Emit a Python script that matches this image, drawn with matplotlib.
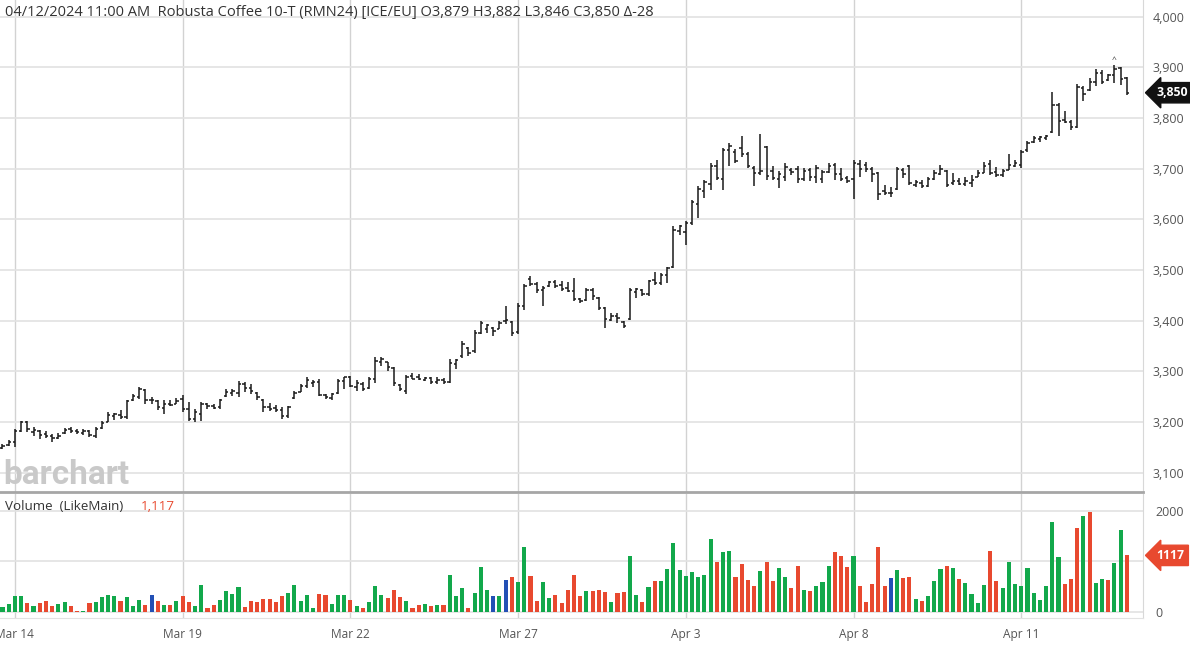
import matplotlib
matplotlib.use("Agg")
import matplotlib.pyplot as plt
import matplotlib.transforms as mtransforms
from matplotlib.lines import Line2D

plt.rcParams['font.family'] = ['Open Sans', 'DejaVu Sans']

# hourly bars, Mar 13 -> Apr 12 2024 (index = bar number)
opens = [3148, 3154, 3160, 3182, 3200, 3180, 3182, 3176, 3172, 3168,
         3178, 3186, 3182, 3178, 3182, 3172, 3188, 3200, 3212, 3214,
         3210, 3243, 3250, 3264, 3244, 3242, 3228, 3236, 3236, 3245,
         3226, 3206, 3215, 3235, 3232, 3230, 3252, 3258, 3258, 3276,
         3268, 3258, 3244, 3230, 3228, 3224, 3212, 3248, 3260, 3272,
         3278, 3280, 3254, 3248, 3258, 3282, 3288, 3270, 3276, 3268,
         3286, 3318, 3318, 3306, 3274, 3262, 3290, 3288, 3284, 3287,
         3280, 3284, 3280, 3314, 3330, 3346, 3340, 3376, 3384, 3386,
         3384, 3400, 3398, 3378, 3430, 3482, 3472, 3460, 3468, 3476,
         3470, 3464, 3458, 3442, 3440, 3460, 3444, 3426, 3402, 3410,
         3398, 3404, 3456, 3460, 3452, 3480, 3474, 3490, 3506, 3578,
         3576, 3592, 3630, 3656, 3670, 3706, 3680, 3736, 3734, 3740,
         3730, 3702, 3692, 3742, 3696, 3680, 3684, 3698, 3700, 3680,
         3698, 3684, 3680, 3694, 3708, 3690, 3682, 3680, 3710, 3708,
         3700, 3692, 3656, 3652, 3660, 3698, 3705, 3668, 3672, 3666,
         3680, 3690, 3696, 3672, 3676, 3670, 3672, 3684, 3692, 3710,
         3694, 3688, 3698, 3706, 3708, 3736, 3752, 3758, 3760, 3772,
         3826, 3796, 3792, 3782, 3860, 3856, 3872, 3888, 3876, 3884,
         3898, 3879]
highs = [3156, 3165, 3186, 3203, 3203, 3190, 3185, 3183, 3176, 3178,
         3188, 3190, 3186, 3186, 3184, 3190, 3203, 3220, 3218, 3223,
         3244, 3256, 3269, 3266, 3249, 3243, 3243, 3243, 3247, 3253,
         3239, 3226, 3239, 3237, 3236, 3246, 3265, 3266, 3282, 3280,
         3276, 3260, 3245, 3238, 3234, 3229, 3232, 3262, 3275, 3289,
         3283, 3285, 3256, 3258, 3285, 3289, 3291, 3283, 3280, 3289,
         3329, 3328, 3319, 3309, 3276, 3292, 3296, 3294, 3289, 3289,
         3288, 3287, 3324, 3325, 3361, 3348, 3381, 3400, 3394, 3387,
         3400, 3430, 3400, 3436, 3472, 3489, 3476, 3469, 3479, 3481,
         3479, 3477, 3484, 3445, 3464, 3464, 3446, 3428, 3415, 3416,
         3399, 3464, 3464, 3462, 3481, 3497, 3494, 3507, 3586, 3589,
         3596, 3639, 3665, 3678, 3711, 3718, 3741, 3751, 3738, 3764,
         3734, 3705, 3769, 3744, 3705, 3695, 3711, 3701, 3705, 3701,
         3701, 3708, 3698, 3711, 3711, 3701, 3685, 3718, 3717, 3714,
         3704, 3694, 3668, 3664, 3704, 3701, 3707, 3677, 3677, 3684,
         3697, 3707, 3697, 3691, 3681, 3684, 3687, 3697, 3714, 3717,
         3704, 3700, 3730, 3717, 3737, 3754, 3764, 3765, 3767, 3852,
         3830, 3813, 3797, 3868, 3863, 3879, 3896, 3894, 3886, 3905,
         3901, 3882]
lows = [3146, 3152, 3150, 3180, 3180, 3172, 3167, 3168, 3160, 3166,
        3176, 3178, 3176, 3174, 3170, 3168, 3186, 3200, 3205, 3207,
        3207, 3242, 3246, 3236, 3236, 3223, 3216, 3232, 3236, 3220,
        3203, 3200, 3203, 3226, 3225, 3226, 3250, 3252, 3249, 3259,
        3256, 3243, 3220, 3222, 3220, 3207, 3208, 3245, 3259, 3268,
        3269, 3252, 3246, 3244, 3256, 3265, 3269, 3262, 3262, 3265,
        3278, 3311, 3301, 3272, 3262, 3256, 3285, 3284, 3282, 3275,
        3276, 3276, 3278, 3305, 3327, 3331, 3337, 3373, 3376, 3370,
        3383, 3393, 3370, 3373, 3422, 3468, 3455, 3429, 3467, 3465,
        3458, 3456, 3438, 3435, 3438, 3440, 3422, 3386, 3399, 3395,
        3386, 3402, 3445, 3448, 3448, 3471, 3471, 3474, 3504, 3570,
        3550, 3589, 3603, 3642, 3659, 3678, 3659, 3705, 3711, 3724,
        3701, 3665, 3688, 3678, 3678, 3662, 3675, 3688, 3672, 3675,
        3675, 3672, 3672, 3691, 3678, 3675, 3672, 3641, 3684, 3694,
        3674, 3638, 3648, 3644, 3658, 3681, 3668, 3664, 3661, 3664,
        3677, 3687, 3664, 3668, 3668, 3666, 3664, 3684, 3691, 3687,
        3684, 3684, 3697, 3704, 3701, 3734, 3750, 3752, 3757, 3770,
        3764, 3790, 3777, 3780, 3833, 3853, 3863, 3868, 3874, 3870,
        3866, 3846]
closes = [3153, 3161, 3182, 3200, 3186, 3184, 3175, 3172, 3168, 3172,
          3185, 3182, 3180, 3182, 3174, 3186, 3198, 3214, 3216, 3210,
          3242, 3252, 3265, 3244, 3244, 3230, 3236, 3234, 3242, 3225,
          3206, 3220, 3236, 3232, 3228, 3244, 3260, 3262, 3276, 3268,
          3262, 3250, 3230, 3226, 3224, 3212, 3230, 3258, 3272, 3284,
          3280, 3254, 3250, 3256, 3282, 3288, 3272, 3278, 3266, 3286,
          3320, 3324, 3308, 3278, 3266, 3288, 3286, 3285, 3287, 3280,
          3284, 3280, 3316, 3322, 3354, 3336, 3376, 3396, 3392, 3380,
          3396, 3402, 3376, 3430, 3468, 3472, 3460, 3465, 3476, 3468,
          3462, 3458, 3442, 3438, 3460, 3448, 3426, 3404, 3410, 3406,
          3390, 3460, 3462, 3452, 3478, 3474, 3490, 3504, 3580, 3586,
          3592, 3634, 3660, 3674, 3706, 3682, 3736, 3745, 3716, 3730,
          3705, 3692, 3696, 3686, 3682, 3690, 3704, 3694, 3680, 3696,
          3684, 3702, 3694, 3706, 3690, 3680, 3676, 3712, 3700, 3700,
          3690, 3650, 3652, 3652, 3700, 3690, 3672, 3674, 3666, 3680,
          3692, 3700, 3668, 3676, 3670, 3676, 3678, 3692, 3706, 3692,
          3688, 3696, 3708, 3712, 3734, 3750, 3760, 3762, 3764, 3826,
          3795, 3792, 3782, 3862, 3848, 3872, 3888, 3872, 3884, 3896,
          3878, 3850]
volumes = [100, 153, 313, 307, 173, 120, 180, 213, 120, 147,
           187, 113, 27, 27, 167, 187, 293, 327, 307, 220,
           293, 113, 233, 133, 327, 213, 140, 127, 213, 313,
           187, 107, 533, 87, 133, 233, 413, 347, 500, 100,
           213, 187, 260, 260, 200, 307, 367, 540, 220, 333,
           87, 353, 333, 147, 333, 327, 233, 113, 73, 193,
           507, 333, 280, 433, 293, 207, 80, 127, 160, 113,
           133, 140, 727, 320, 480, 73, 373, 887, 427, 320,
           313, 627, 687, 600, 1273, 713, 220, 593, 267, 333,
           167, 427, 720, 313, 407, 407, 440, 387, 187, 367,
           393, 1113, 333, 200, 500, 613, 607, 840, 1353, 827,
           700, 787, 680, 720, 1433, 980, 1180, 1213, 687, 953,
           633, 513, 807, 993, 620, 867, 693, 480, 913, 427,
           413, 507, 587, 913, 1193, 1113, 880, 1107, 507, 193,
           553, 1273, 513, 667, 820, 673, 687, 247, 213, 320,
           620, 853, 907, 860, 660, 567, 360, 180, 527, 1200,
           607, 480, 993, 553, 520, 873, 373, 233, 507, 1767,
           1087, 547, 653, 1667, 1887, 1967, 573, 647, 640, 973,
           1613, 1117]
vol_dirs = "GGGGRGRRRGGRRGRGGGGRGGGRBRGRGRRGGRRGGGGRRRRRRRGGGGGRRGGGRGRGGGRRRGRRGRGRGGGRGGGBGBRGGRRGGRRR" \
           "RRGRRRGRRGGRGRGGGGGGGGGRGGRRRRGRRGGRRGRGGGRRRGRRRRRBGRRGRGGGRGRGGGGRRGGGGGGGGGGRRRGRGGRGGRR"
date_idx = [2, 29, 56, 83, 110, 137, 164]
date_labels = ['Mar 14', 'Mar 19', 'Mar 22', 'Mar 27', 'Apr 3', 'Apr 8', 'Apr 11']
price_ticks = [3100, 3200, 3300, 3400, 3500, 3600, 3700, 3800, 3900, 4000]
vol_ticks = [0, 1000, 2000]
vol_tick_labels = ['0', '', '2000']  # 1000 sits under the last-volume tag
last_price = 3850
last_volume = 1117
title = "04/12/2024 11:00 AM  Robusta Coffee 10-T (RMN24) [ICE/EU] O3,879 H3,882 L3,846 C3,850 \u0394-28"

GREEN = '#12a84b'
RED = '#e8492f'
BLUE = '#2350b5'
GRID = '#e2e2e2'
VGRID = '#d2d2d2'
TXT = '#555555'
col_map = {'G': GREEN, 'R': RED, 'B': BLUE}

fig = plt.figure(figsize=(11.9, 6.45), dpi=100)
ax = fig.add_axes([0.0, 0.2372, 0.9605, 0.7628])
axv = fig.add_axes([0.0, 0.0419, 0.9605, 0.1922], sharex=ax)

n = len(closes)
xs = list(range(n))

# price bars (OHLC)
ax.vlines(xs, lows, highs, color='#1a1a1a', linewidth=1.1, zorder=3)
ax.hlines(opens, [x - 0.38 for x in xs], xs, color='#1a1a1a', linewidth=1.1, zorder=3)
ax.hlines(closes, xs, [x + 0.38 for x in xs], color='#1a1a1a', linewidth=1.1, zorder=3)
ax.text(179, 3906, '^', ha='center', va='bottom', fontsize=6, color='#333333')

ax.set_xlim(-0.4, 183.6)
ax.set_ylim(3062, 4033)
ax.set_yticks(price_ticks)
ax.set_yticklabels([f"{v:,}" for v in price_ticks])
ax.yaxis.tick_right()
ax.tick_params(axis='y', length=0, pad=7, labelsize=9, labelcolor=TXT)
ax.tick_params(axis='x', length=0, labelbottom=False)
ax.set_xticks(date_idx)
ax.grid(True, axis='y', color=GRID, linewidth=1.2)
ax.grid(True, axis='x', color=VGRID, linewidth=1.0)
ax.set_axisbelow(True)
for side in ['top', 'left', 'bottom']:
    ax.spines[side].set_visible(False)
ax.spines['right'].set_color('#d8d8d8')

ax.text(0.004, 0.99, title, transform=ax.transAxes, ha='left', va='top',
        fontsize=10.5, color='#333333')
ax.text(0.003, 0.016, 'barchart', transform=ax.transAxes, ha='left', va='baseline',
        fontsize=24, fontweight='bold', color='#c9c9c9', family=['Roboto', 'DejaVu Sans'])

trans = mtransforms.blended_transform_factory(ax.transAxes, ax.transData)
ax.text(1.012, last_price, f"{last_price:,}", transform=trans, ha='left', va='center',
        fontsize=8.8, fontweight='bold', color='white', clip_on=False,
        bbox=dict(boxstyle='larrow,pad=0.3', fc='#111111', ec='#111111'))

# volume bars
axv.bar(xs, volumes, width=0.66, color=[col_map[c] for c in vol_dirs], zorder=3)
axv.set_ylim(-120, 2330)
axv.set_yticks(vol_ticks)
axv.set_yticklabels(vol_tick_labels)
axv.yaxis.tick_right()
axv.tick_params(axis='y', length=0, pad=9, labelsize=9, labelcolor=TXT)
axv.set_xticks(date_idx)
axv.set_xticklabels(date_labels)
axv.tick_params(axis='x', length=0, pad=7, labelsize=8.6, labelcolor=TXT)
axv.grid(True, axis='y', color=GRID, linewidth=1.2)
axv.grid(True, axis='x', color=VGRID, linewidth=1.0)
axv.set_axisbelow(True)
for side in ['top', 'left']:
    axv.spines[side].set_visible(False)
axv.spines['right'].set_color('#d8d8d8')
axv.spines['bottom'].set_color('#e2e2e2')

axv.text(0.004, 0.90, 'Volume  (LikeMain) ', transform=axv.transAxes, ha='left',
         va='center', fontsize=9.6, color='#333333')
axv.text(0.1235, 0.90, f"{last_volume:,}", transform=axv.transAxes, ha='left',
         va='center', fontsize=9.6, color=RED)

transv = mtransforms.blended_transform_factory(axv.transAxes, axv.transData)
axv.text(1.012, last_volume, str(last_volume), transform=transv, ha='left', va='center',
         fontsize=8.8, fontweight='bold', color='white', clip_on=False,
         bbox=dict(boxstyle='larrow,pad=0.3', fc=RED, ec=RED))

# panel separator
fig.add_artist(Line2D([0, 0.9605], [0.2372, 0.2372], transform=fig.transFigure,
                      color='#a6a6a6', linewidth=2))

fig.savefig('out.png', dpi=100)
